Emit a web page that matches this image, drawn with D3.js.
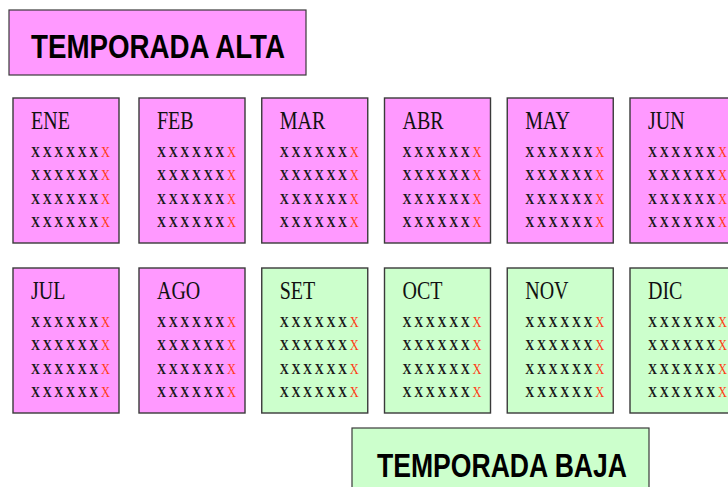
<!DOCTYPE html>
<html>
<head>
<meta charset="utf-8">
<script src="https://cdn.jsdelivr.net/npm/d3@7"></script>
<style>
  html, body { margin: 0; padding: 0; background: #fff; overflow: hidden; }
  svg { display: block; }
</style>
</head>
<body>
<svg id="chart" width="728" height="487"></svg>
<script>
// ---- data ----
const months = ["ENE", "FEB", "MAR", "ABR", "MAY", "JUN", "JUL", "AGO", "SET", "OCT", "NOV", "DIC"];
const monthSeason = ["ALTA", "ALTA", "ALTA", "ALTA", "ALTA", "ALTA", "ALTA", "ALTA", "BAJA", "BAJA", "BAJA", "BAJA"];
const seasons = ["ALTA", "BAJA"];
const seasonLabels = ["TEMPORADA ALTA", "TEMPORADA BAJA"];
const markRows = [0, 1, 2, 3];
const markFlags = [0, 0, 0, 0, 0, 0, 1]; // 1 = highlighted (red) X

// ---- styles / layout ----
const W = 728, H = 487;
const svg = d3.select("#chart");
const colorScale = d3.scaleOrdinal().domain(seasons).range(["#ff99ff", "#ccffcc"]);
const markColor = d3.scaleOrdinal().domain([0, 1]).range(["#1a1a1a", "#ff3a14"]);

const colX = d3.scaleLinear().domain([0, 1, 5]).range([13, 139, 630]);
const rowY = d3.scaleLinear().domain([0, 1]).range([98, 268]);
const boxW = 106, boxH = 145;
const markX = d3.scaleLinear().domain([0, markFlags.length - 1]).range([22.5, 92.5]);
const markY = d3.scaleLinear().domain([0, markRows.length - 1]).range([59, 129]);

// season banners
const bannerX = d3.scaleOrdinal().domain(seasons).range([9, 352]);
const bannerY = d3.scaleOrdinal().domain(seasons).range([10, 428]);
const bannerW = 297, bannerH = 70;

const banners = svg.selectAll("g.banner")
  .data(seasons)
  .join("g")
  .attr("class", "banner")
  .attr("transform", d => `translate(${bannerX(d)},${bannerY(d)})`);

banners.append("rect")
  .attr("x", 0).attr("y", 0)
  .attr("width", bannerW).attr("height", (d, i) => i === 0 ? 65 : bannerH)
  .attr("fill", d => colorScale(d))
  .attr("stroke", "#3a3a3a")
  .attr("stroke-width", 1.2);

banners.append("text")
  .attr("transform", (d, i) => i === 0 ? "translate(22,48) scale(1,1.2)" : "translate(25,49) scale(1,1.2)")
  .attr("font-family", "'Liberation Sans', Arial, sans-serif")
  .attr("font-weight", "bold")
  .attr("font-size", 27)
  .attr("fill", "#000")
  .attr("textLength", (d, i) => i === 0 ? 254 : 250)
  .attr("lengthAdjust", "spacingAndGlyphs")
  .text((d, i) => seasonLabels[i]);

// month boxes
const boxes = svg.selectAll("g.month")
  .data(months)
  .join("g")
  .attr("class", "month")
  .attr("transform", (d, i) => `translate(${colX(i % 6)},${rowY(Math.floor(i / 6))})`);

boxes.append("rect")
  .attr("x", 0).attr("y", 0)
  .attr("width", boxW).attr("height", boxH)
  .attr("fill", (d, i) => colorScale(monthSeason[i]))
  .attr("stroke", "#3a3a3a")
  .attr("stroke-width", 1.4);

boxes.append("text")
  .attr("transform", "translate(18,31) scale(1,1.25)")
  .attr("font-family", "'Liberation Serif', 'Times New Roman', serif")
  .attr("font-size", 20)
  .attr("fill", "#111")
  .text(d => d);

boxes.each(function () {
  const g = d3.select(this);
  markRows.forEach(r => {
    g.selectAll(null)
      .data(markFlags)
      .join("text")
      .attr("transform", (f, j) => `translate(${markX(j)},${markY(r)}) scale(1,1.2)`)
      .attr("text-anchor", "middle")
      .attr("font-family", "'Liberation Serif', 'Times New Roman', serif")
      .attr("font-size", 12.5)
      .attr("font-weight", f => f ? "normal" : "bold")
      .attr("fill", f => markColor(f))
      .text("X");
  });
});
</script>
</body>
</html>
